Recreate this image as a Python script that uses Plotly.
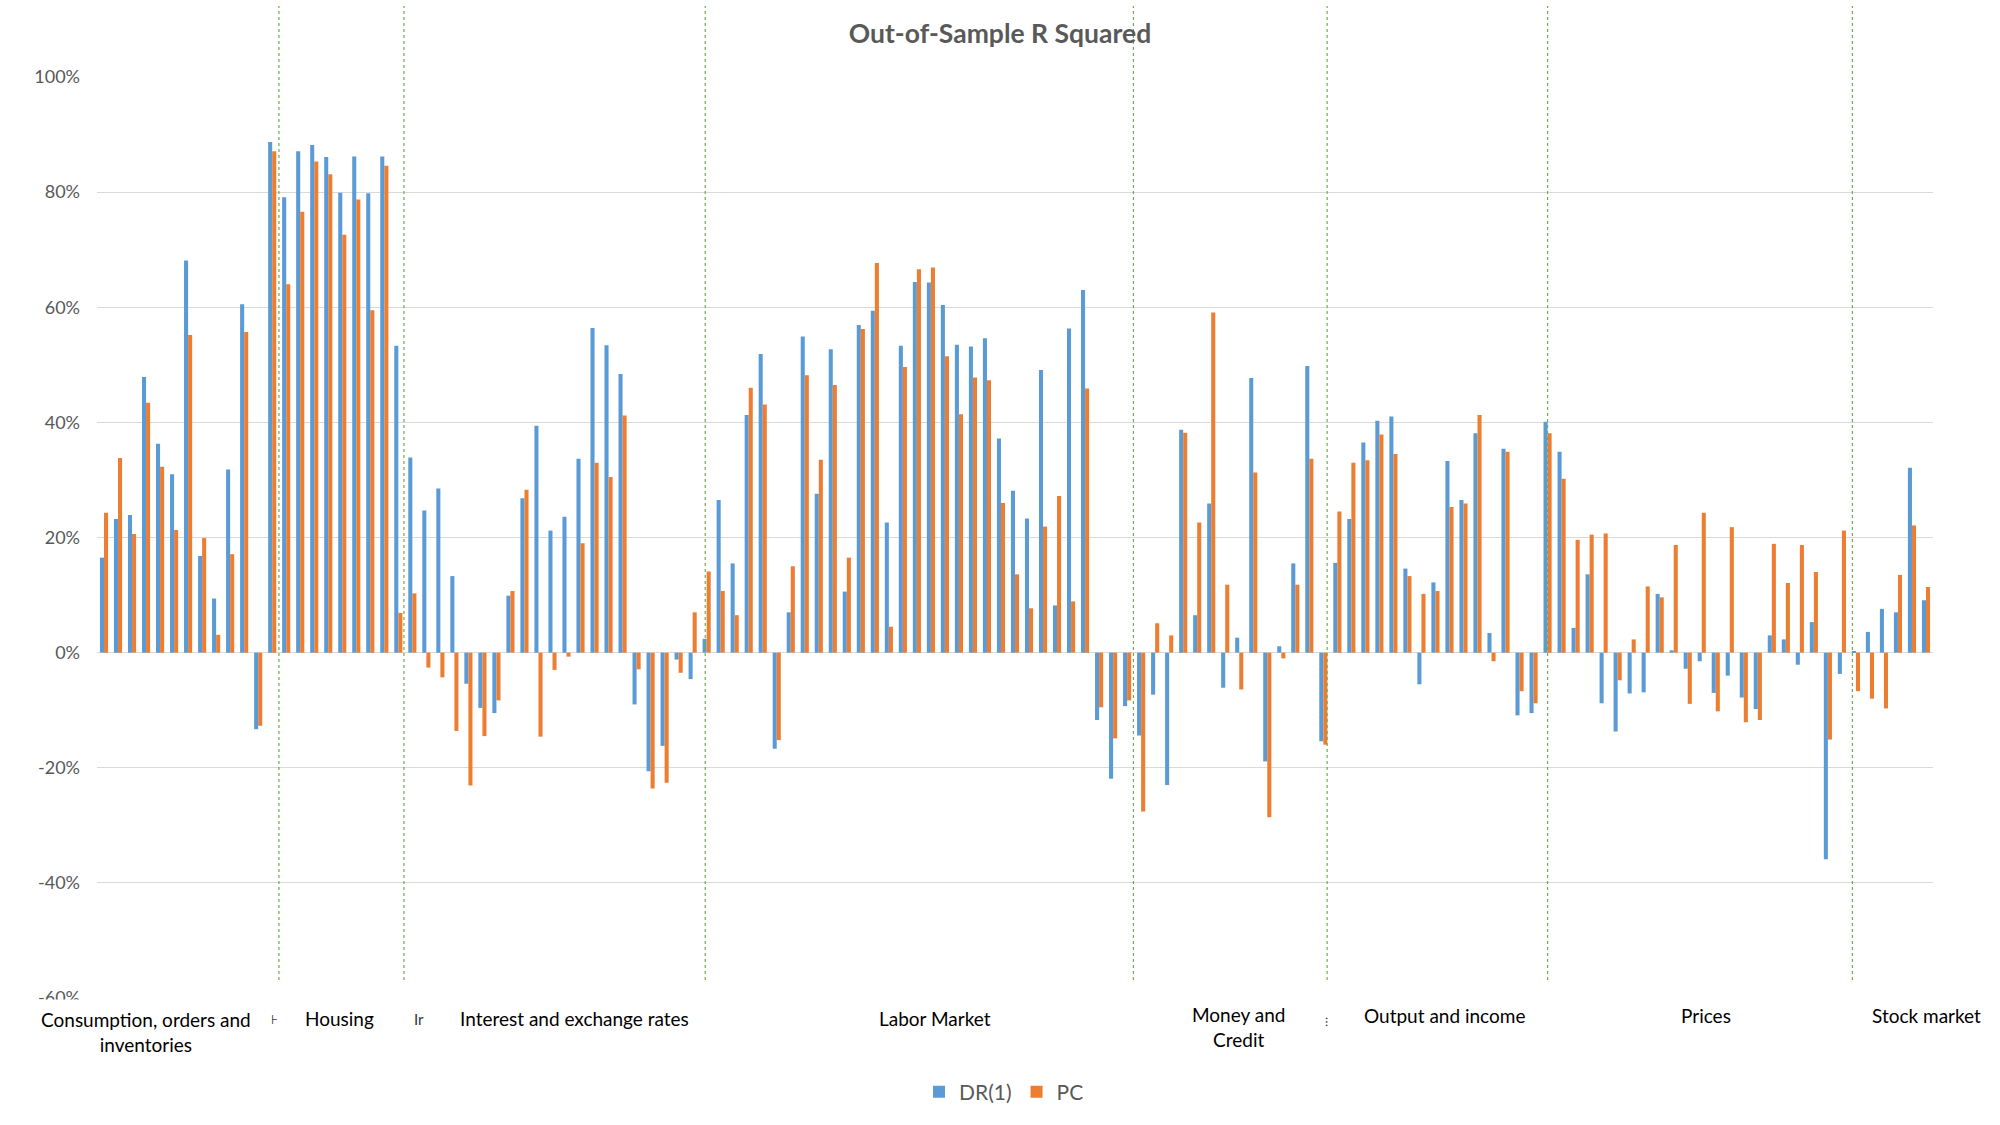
import plotly.graph_objects as go

# ---- data (values in percent) ----
categories = list(range(1, 132))

dr1 = [
    16.5, 23.2, 23.9, 47.9, 36.3, 31.0, 68.1, 16.8, 9.4, 31.8, 60.5, -13.3, 88.7,
    79.1, 87.1, 88.2, 86.1, 79.9, 86.2, 79.8, 86.2, 53.3,
    33.9, 24.7, 28.5, 13.3, -5.4, -9.6, -10.5, 9.9, 26.8, 39.4, 21.2, 23.6, 33.7, 56.4, 53.4, 48.4, -9.0, -20.6, -16.2, -1.2, -4.6,
    2.4, 26.5, 15.5, 41.3, 51.9, -16.7, 7.0, 54.9, 27.6, 52.7, 10.6, 56.9, 59.4, 22.6, 53.3, 64.4, 64.3, 60.4, 53.5, 53.2, 54.6, 37.2, 28.1, 23.3, 49.1, 8.2, 56.3, 63.0, -11.7, -21.9, -9.3,
    -14.4, -7.3, -23.0, 38.7, 6.5, 25.9, -6.1, 2.6, 47.7, -18.9, 1.1, 15.5, 49.8, -15.4,
    15.6, 23.2, 36.5, 40.3, 41.0, 14.6, -5.5, 12.2, 33.3, 26.5, 38.1, 3.4, 35.4, -10.9, -10.5,
    40.1, 34.9, 4.3, 13.6, -8.8, -13.7, -7.1, -6.9, 10.2, 0.4, -2.8, -1.5, -7.0, -4.0, -7.8, -9.8, 3.0, 2.3, -2.1, 5.3, -35.9, -3.7,
    0.2, 3.6, 7.6, 7.0, 32.1, 9.1,
]

pc = [
    24.3, 33.8, 20.6, 43.4, 32.3, 21.3, 55.2, 19.9, 3.1, 17.1, 55.7, -12.7, 87.1,
    64.0, 76.6, 85.3, 83.1, 72.6, 78.7, 59.5, 84.6, 6.9,
    10.3, -2.6, -4.3, -13.6, -23.1, -14.5, -8.3, 10.7, 28.3, -14.6, -3.0, -0.7, 19.0, 33.0, 30.5, 41.2, -2.9, -23.6, -22.6, -3.5, 7.0,
    14.1, 10.7, 6.5, 46.0, 43.1, -15.2, 15.0, 48.2, 33.5, 46.5, 16.5, 56.2, 67.7, 4.5, 49.6, 66.6, 66.9, 51.5, 41.4, 47.8, 47.3, 26.0, 13.6, 7.7, 21.9, 27.2, 8.9, 45.9, -9.5, -14.9, -8.3,
    -27.6, 5.1, 3.0, 38.2, 22.6, 59.1, 11.8, -6.4, 31.3, -28.6, -1.0, 11.8, 33.7, -16.0,
    24.5, 33.0, 33.4, 37.9, 34.5, 13.3, 10.2, 10.7, 25.3, 25.9, 41.3, -1.5, 34.9, -6.7, -8.8,
    38.1, 30.2, 19.6, 20.5, 20.7, -4.8, 2.3, 11.5, 9.6, 18.7, -8.9, 24.3, -10.2, 21.8, -12.1, -11.7, 18.9, 12.1, 18.7, 14.0, -15.1, 21.2,
    -6.7, -8.0, -9.7, 13.5, 22.1, 11.4,
]

tick_values = [1.0, 0.8, 0.6, 0.4, 0.2, 0.0, -0.2, -0.4, -0.6]
tick_labels = ["100%", "80%", "60%", "40%", "20%", "0%", "-20%", "-40%", "-60%"]

group_names = [
    "Consumption, orders and<br>inventories", "Housing", "Interest and exchange rates",
    "Labor Market", "Money and<br>Credit", "Output and income", "Prices", "Stock market",
]
group_label_x = [4.0, 17.78, 34.54, 60.29, 81.98, 96.67, 115.3, 131.04]
group_label_y = [-0.0364, -0.0228, -0.0228, -0.0228, -0.0312, -0.0185, -0.0185, -0.0185]

divider_x = [13.48, 22.4, 43.9, 74.45, 88.27, 104.0, 125.75]

# ---- figure ----
BLUE = "#5B9BD5"
ORANGE = "#ED7D31"
GRAY = "#595959"
FONT = "Lato"

fig = go.Figure()
fig.add_bar(x=categories, y=[v / 100 for v in dr1], name="DR(1)",
            marker=dict(color=BLUE, line=dict(width=0)))
fig.add_bar(x=categories, y=[v / 100 for v in pc], name="PC",
            marker=dict(color=ORANGE, line=dict(width=0)))

shapes = []
for xv in divider_x:
    shapes.append(dict(type="line", xref="x", yref="paper", x0=xv, x1=xv,
                       y0=0.0195, y1=1.077, layer="above",
                       line=dict(color="#70AD47", width=1.2, dash="dot")))
# white text-box covers from the original chart (hide lower half of -60% label and part of bottom gridline)
shapes.append(dict(type="rect", xref="paper", yref="paper", x0=-0.06, x1=-0.002,
                   y0=-0.0015, y1=-0.12, layer="above", fillcolor="white", line=dict(width=0)))
shapes.append(dict(type="rect", xref="paper", yref="paper", x0=0.575, x1=1.0,
                   y0=-0.005, y1=0.003, layer="above", fillcolor="white", line=dict(width=0)))

annotations = []
for name, xv, yv in zip(group_names, group_label_x, group_label_y):
    annotations.append(dict(text=name, x=xv, y=yv, xref="x", yref="paper",
                            showarrow=False, xanchor="center", yanchor="middle",
                            align="center",
                            font=dict(family=FONT, size=19, color="#000000")))
# clipped label fragments visible in the original
for frag, xv, yv, sz in [("⊦", 13.2, -0.0228, 13), ("Ir", 23.5, -0.0228, 15), ("⁝", 88.2, -0.026, 12)]:
    annotations.append(dict(text=frag, x=xv, y=yv, xref="x", yref="paper",
                            showarrow=False, xanchor="center", yanchor="middle",
                            font=dict(family=FONT, size=sz, color="#333333")))

fig.update_layout(
    width=2000, height=1125,
    margin=dict(l=97, r=67, t=77, b=127),
    paper_bgcolor="white", plot_bgcolor="white",
    barmode="group", bargap=0.42, bargroupgap=0,
    title=dict(text="<b>Out-of-Sample R Squared</b>", x=0.5, xref="container", xanchor="center",
               y=1 - 34 / 1125, yref="container", yanchor="middle",
               font=dict(family=FONT, size=26.5, color=GRAY)),
    xaxis=dict(type="linear", range=[0.5, 131.5], showticklabels=False, showgrid=False,
               zeroline=False, showline=False, ticks=""),
    yaxis=dict(range=[-0.6, 1.0], tickvals=tick_values, ticktext=tick_labels,
               showgrid=True, gridcolor="#D9D9D9", gridwidth=1,
               zeroline=True, zerolinecolor="#D9D9D9", zerolinewidth=1,
               showline=False, ticks="", ticklabelstandoff=16,
               tickfont=dict(family=FONT, size=18, color=GRAY)),
    legend=dict(orientation="h", x=1004 / 2000, xref="container", xanchor="center",
                y=1 - 1092 / 1125, yref="container", yanchor="middle",
                font=dict(family=FONT, size=21, color=GRAY), itemwidth=30,
                bgcolor="rgba(0,0,0,0)"),
    shapes=shapes,
    annotations=annotations,
    showlegend=True,
)

fig.write_html("out.html")
